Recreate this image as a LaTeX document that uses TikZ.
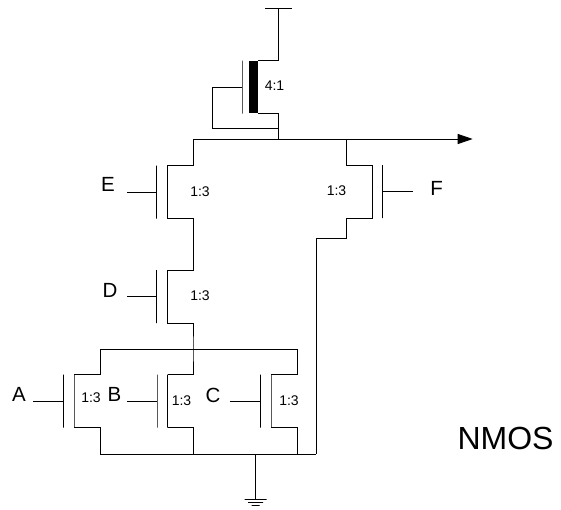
\documentclass[tikz,border=0pt]{standalone}
\usepackage{fontspec}
\setmainfont{Liberation Sans}
\usetikzlibrary{arrows.meta}
\tikzset{
	wire/.style={line width=0.9pt},
	plate/.style={draw,line width=0.9pt,minimum width=0pt,minimum height=53pt,inner sep=0pt,outer sep=0pt},
	thickplate/.style={fill=black,minimum width=9pt,minimum height=52.5pt,inner sep=0pt,outer sep=0pt},
	gndbar/.style={draw,line width=0.9pt,minimum height=0pt,inner sep=0pt,outer sep=0pt},
	ratio/.style={font=\fontsize{14pt}{15pt}\selectfont,inner sep=0pt},
	gatename/.style={font=\fontsize{20.5pt}{22pt}\selectfont,inner sep=0pt}
}
\begin{document}
\begin{tikzpicture}[x=1pt,y=-1pt,node distance=10.5pt]
	\useasboundingbox (0,0) rectangle (561,509);
	% pull-up
	\node (Vg) [plate] at (242,87) {};
	\node (Vc) [thickplate] at (253.5,87) {};
	\coordinate (vdd) at (278,8);
	\coordinate (vddL) at (265,8);
	\coordinate (vddR) at (292,8);
	\coordinate (Vfb) at (212,128.7);
	% rails
	\coordinate (railE) at (193,139);
	\coordinate (railV) at (278,139);
	\coordinate (railF) at (346.7,139);
	\coordinate (out) at (472.7,139);
	\coordinate (railA) at (100,349);
	\coordinate (railB) at (193,349);
	\coordinate (railC) at (297,349);
	\coordinate (gndA) at (100,454);
	\coordinate (gndB) at (193,454);
	\coordinate (gndG) at (255.7,454);
	\coordinate (gndC) at (297,454);
	\coordinate (gndF) at (316,454);
	\coordinate (Fbend) at (346.7,238);
	% transistors
	\node (Eg) [plate] at (156.7,192) {};
	\node (Ec) [plate,right of=Eg] {};
	\node (Dg) [plate] at (156.7,296.5) {};
	\node (Dc) [plate,right of=Dg] {};
	\node (Ag) [plate] at (63.5,401) {};
	\node (Ac) [plate,right of=Ag] {};
	\node (Bg) [plate] at (157,401) {};
	\node (Bc) [plate,right of=Bg] {};
	\node (Cg) [plate] at (260.5,401) {};
	\node (Cc) [plate,right of=Cg] {};
	\node (Fg) [plate] at (382.7,191.5) {};
	\node (Fc) [plate,node distance=10pt,left of=Fg] {};
	% gate inputs
	\coordinate (Ein) at (127,192);
	\coordinate (Din) at (127,296.5);
	\coordinate (Ain) at (33,401);
	\coordinate (Bin) at (127,401);
	\coordinate (Cin) at (230,401);
	\coordinate (Fin) at (412.7,191.5);
	\draw[wire] (Ein) -- (Eg);
	\draw[wire] (Din) -- (Dg);
	\draw[wire] (Ain) -- (Ag);
	\draw[wire] (Bin) -- (Bg);
	\draw[wire] (Cin) -- (Cg);
	\draw[wire] (Fin) -- (Fg);
	% wiring
	\draw[wire] (vddL) -- (vddR);
	\draw[wire] (Vc.north east) -| (vdd);
	\draw[wire] (Vc.south east) -| (railV);
	\draw[wire] (Vg) -| (Vfb) -| (railV);
	\draw[wire,-{Triangle[length=15pt,width=10pt]}] (railE) -- (out);
	\draw[wire] (Ec.north) -| (railE);
	\draw[wire] (Fc.north) -| (railF);
	\draw[wire] (Ec.south) -| (railB |- Dc.north) -- (Dc.north);
	\draw[wire] (Dc.south) -| (railB) |- (Bc.north);
	\draw[wire] (Ac.north) -| (railA) -- (railC) |- (Cc.north);
	\draw[wire] (Ac.south) -| (gndA) -- (gndF);
	\draw[wire] (Bc.south) -| (gndB);
	\draw[wire] (Cc.south) -| (gndC);
	\draw[wire] (Fc.south) -| (Fbend) -| (gndF);
	% ground
	\node (gnd1) [gndbar,minimum width=22pt] at (255.7,499) {};
	\node (gnd2) [gndbar,minimum width=15pt] at (255.7,502.7) {};
	\node (gnd3) [gndbar,minimum width=8pt] at (255.7,505.9) {};
	\draw[wire] (gndG) -- (gnd1);
	% labels
	\node (Vr) [ratio] at (274.5,86) {4:1};
	\node (Er) [ratio] at (200,192) {1:3};
	\node (Dr) [ratio] at (200,296) {1:3};
	\node (Fr) [ratio] at (336.5,191) {1:3};
	\node (Ar) [ratio] at (91,398) {1:3};
	\node (Br) [ratio] at (181.5,401) {1:3};
	\node (Cr) [ratio] at (289,401) {1:3};
	\node (E) [gatename] at (108,184) {E};
	\node (D) [gatename] at (110,290) {D};
	\node (A) [gatename] at (19,394) {A};
	\node (B) [gatename] at (114.5,394) {B};
	\node (C) [gatename] at (213,395) {C};
	\node (F) [gatename] at (436.6,188) {F};
	\node (nmos) [font=\fontsize{32pt}{34pt}\selectfont,inner sep=0pt] at (505.5,438) {NMOS};
\end{tikzpicture}
\end{document}
